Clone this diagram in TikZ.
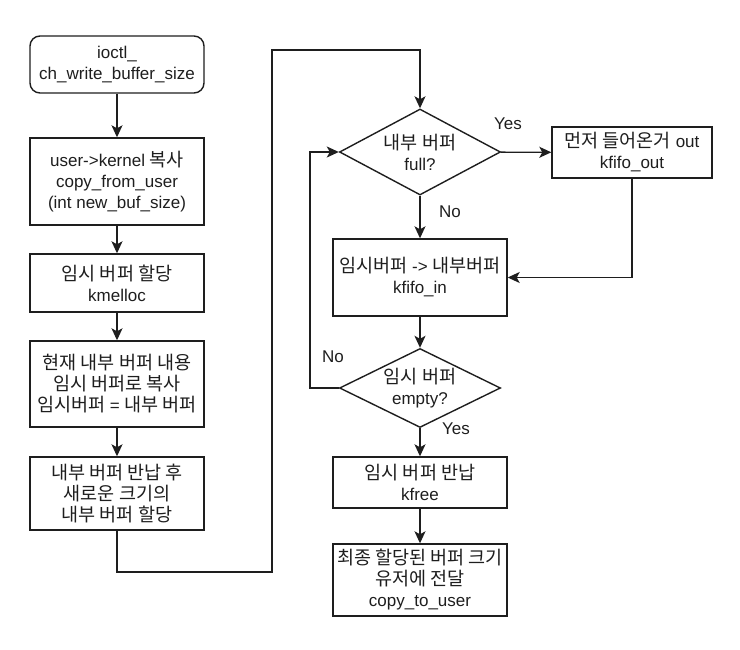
\documentclass[tikz,border=0pt]{standalone}
\usepackage{fontspec}
\setmainfont{Liberation Sans}
\newfontfamily\kofont[Scale=1.09]{Noto Sans CJK KR}
\newcommand{\ko}[1]{{\kofont #1}}
\usetikzlibrary{arrows.meta,shapes.geometric,calc}
\definecolor{ink}{HTML}{1E1E1E}
\tikzset{
  flowtext/.style={font=\fontsize{17}{21}\selectfont,text=ink,align=center},
  startbox/.style={flowtext,rectangle,rounded corners=10pt,draw=ink,line width=1.4pt,fill=white,minimum width=174pt,inner sep=0pt},
  procbox/.style={flowtext,rectangle,draw=ink,line width=1.4pt,fill=white,minimum width=174pt,inner sep=0pt},
  decision/.style={flowtext,diamond,draw=ink,line width=1.4pt,fill=white,aspect=1.85,inner sep=0pt,minimum width=161pt},
  arrow/.style={-{Stealth[length=12pt,width=11pt,inset=3pt]},line width=1.4pt,draw=ink},
  answer/.style={flowtext}
}
\begin{document}
\begin{tikzpicture}[x=1pt,y=-1pt]
    \useasboundingbox (0,0) rectangle (740,650);
    \node[startbox,minimum height=57pt] (start) at (117,64.5) {ioctl\_\\ch\_write\_buffer\_size};
    \node[procbox,minimum height=87pt] (copyin) at (117,181.5) {user->kernel \ko{복사}\\copy\_from\_user\\(int new\_buf\_size)};
    \node[procbox,minimum height=58pt] (alloctmp) at (117,283) {\ko{임시 버퍼 할당}\\kmelloc};
    \node[procbox,minimum height=86pt] (backup) at (117,384) {\ko{현재 내부 버퍼 내용}\\\ko{임시 버퍼로 복사}\\\ko{임시버퍼} = \ko{내부 버퍼}};
    \node[procbox,minimum height=73pt] (realloc) at (117,493.5) {\ko{내부 버퍼 반납 후}\\\ko{새로운 크기의}\\\ko{내부 버퍼 할당}};
    \node[decision,minimum height=86pt] (isfull) at (420,152) {\ko{내부 버퍼}\\full?};
    \node[procbox,minimum width=160pt,minimum height=51pt] (fifoout) at (632,152.5) {\ko{먼저 들어온거} out\\kfifo\_out};
    \node[procbox,minimum height=77pt] (fifoin) at (420,277.5) {\ko{임시버퍼} -> \ko{내부버퍼}\\kfifo\_in};
    \node[decision,minimum height=79pt] (isempty) at (420,388) {\ko{임시 버퍼}\\empty?};
    \node[procbox,minimum height=51pt] (freetmp) at (420,482.5) {\ko{임시 버퍼 반납}\\kfree};
    \node[procbox,minimum height=72pt] (touser) at (420,580) {\ko{최종 할당된 버퍼 크기}\\\ko{유저에 전달}\\copy\_to\_user};
    \coordinate (lowbend) at (272,572);
    \coordinate (topbend) at (272,50);
    \coordinate (noloop) at (310,388);
    \draw[arrow] (start) -- (copyin);
    \draw[arrow] (copyin) -- (alloctmp);
    \draw[arrow] (alloctmp) -- (backup);
    \draw[arrow] (backup) -- (realloc);
    \draw[arrow] (realloc.south) |- (lowbend) -- (topbend) -| (isfull.north);
    \draw[arrow] (isfull) -- (fifoout);
    \draw[arrow] (isfull) -- (fifoin);
    \draw[arrow] (fifoout.south) |- (fifoin.east);
    \draw[arrow] (fifoin) -- (isempty);
    \draw[arrow] (isempty.west) -- (noloop) |- (isfull.west);
    \draw[arrow] (isempty) -- (freetmp);
    \draw[arrow] (freetmp) -- (touser);
    \node[answer] (yesfull) at (508,124) {Yes};
    \node[answer] (nofull) at (450,212) {No};
    \node[answer] (noempty) at (333,357) {No};
    \node[answer] (yesempty) at (456,429) {Yes};
\end{tikzpicture}
\end{document}
